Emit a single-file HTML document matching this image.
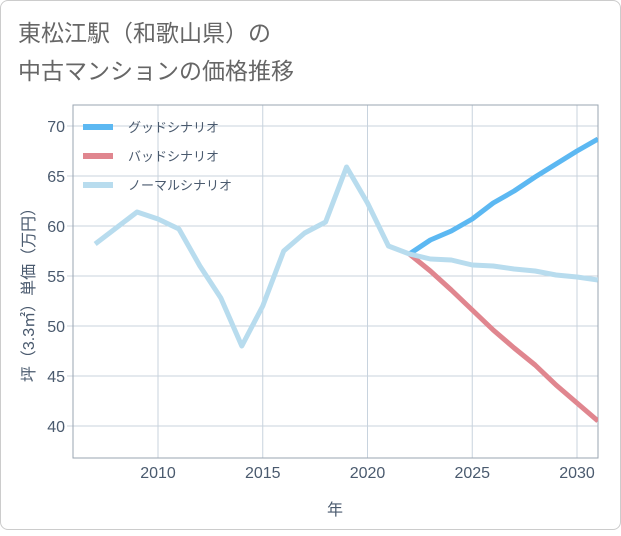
<!DOCTYPE html>
<html><head><meta charset="utf-8"><style>
body{margin:0;background:#fff;font-family:"Liberation Sans","Noto Sans CJK JP",sans-serif}
#card{position:absolute;left:0;top:0;width:619px;height:528px;border:1px solid #ccc;border-radius:8px;background:#fff}
svg text{font-family:"Liberation Sans","Noto Sans CJK JP",sans-serif}
</style></head><body>
<div id="card">
<svg id="chart" width="621" height="530">
<text x="17" y="40" font-size="23" fill="#666">東松江駅（和歌山県）の</text>
<text x="17" y="78" font-size="23" fill="#666">中古マンションの価格推移</text>
<g id="grid"></g><g id="series"></g><g id="legend"></g>
</svg></div>
<script>
const years=[2007,2008,2009,2010,2011,2012,2013,2014,2015,2016,2017,2018,2019,2020,2021,2022,2023,2024,2025,2026,2027,2028,2029,2030,2031];
const normal=[58.2,59.8,61.4,60.7,59.7,56,52.8,48,52,57.5,59.3,60.4,65.9,62.3,58,57.2,56.7,56.6,56.1,56,55.7,55.5,55.1,54.9,54.6];
const fYears=[2022,2023,2024,2025,2026,2027,2028,2029,2030,2031];
const good=[57.2,58.6,59.5,60.7,62.3,63.5,64.9,66.2,67.5,68.7];
const bad=[57.2,55.5,53.6,51.6,49.6,47.8,46.1,44.1,42.3,40.5];
const xTicks=[2010,2015,2020,2025,2030];
const yTicks=[40,45,50,55,60,65,70];
const L=72,R=597,T=104,B=457;
const x=v=>157+(v-2010)*20.95;
const y=v=>425-(v-40)*10;
const NS='http://www.w3.org/2000/svg';
function mk(tag,attrs,parent,txt){const e=document.createElementNS(NS,tag);for(const k in attrs)e.setAttribute(k,attrs[k]);if(txt!==undefined)e.textContent=txt;parent.appendChild(e);return e;}
const g=document.getElementById('grid');
xTicks.forEach(t=>{
 const l=mk('line',{x1:x(t),x2:x(t),y1:T,y2:B,stroke:'#c8d3de','stroke-width':1},g);
 
 
 const tx=mk('text',{x:x(t),y:477,'font-size':16,fill:'#4a5a6e','text-anchor':'middle'},g,t);
 
 
});
yTicks.forEach(t=>{
 const l=mk('line',{x1:L-6,x2:R,y1:y(t),y2:y(t),stroke:'#c8d3de','stroke-width':1},g);
 
 
 const tx=mk('text',{x:L-8,y:y(t)+6,'font-size':16,fill:'#4a5a6e','text-anchor':'end'},g,t);
 
 
});
const fr=mk('rect',{x:L,y:T,width:R-L,height:B-T,fill:'none',stroke:'#9aa5b1','stroke-width':1},g);


const xt=mk('text',{x:334,y:514,'font-size':16,fill:'#4a5a6e','text-anchor':'middle'},g,'年');


const yt=mk('text',{x:0,y:0,'font-size':16,fill:'#4a5a6e','text-anchor':'middle',transform:'translate(33,290) rotate(-90)'},g,'坪（3.3㎡）単価（万円）');


const s=document.getElementById('series');
function line(xs,vs,color,name){
 const p=mk('polyline',{points:xs.map((v,i)=>x(v)+','+y(vs[i])).join(' '),fill:'none',stroke:color,'stroke-width':5,'stroke-linejoin':'round'},s);
 
 
}
const cp=mk('clipPath',{id:'c'},s);mk('rect',{x:L,y:T,width:R-L,height:B-T},cp);
s.setAttribute('clip-path','url(#c)');
line(fYears,bad,'#e0868f','bad-scenario-line');
line(fYears,good,'#5cb8f2','good-scenario-line');
line(years,normal,'#b8dcee','normal-scenario-line');
const lg=document.getElementById('legend');
[['グッドシナリオ','#5cb8f2'],['バッドシナリオ','#e0868f'],['ノーマルシナリオ','#b8dcee']].forEach((d,i)=>{
 const yy=126+i*29;
 const r=mk('rect',{x:82,y:yy-3,width:30,height:6,fill:d[1]},lg);
 
 
 const t=mk('text',{x:127,y:yy+5,'font-size':13,fill:'#4a5a6e'},lg,d[0]);
 
 
});
</script>
</body></html>
